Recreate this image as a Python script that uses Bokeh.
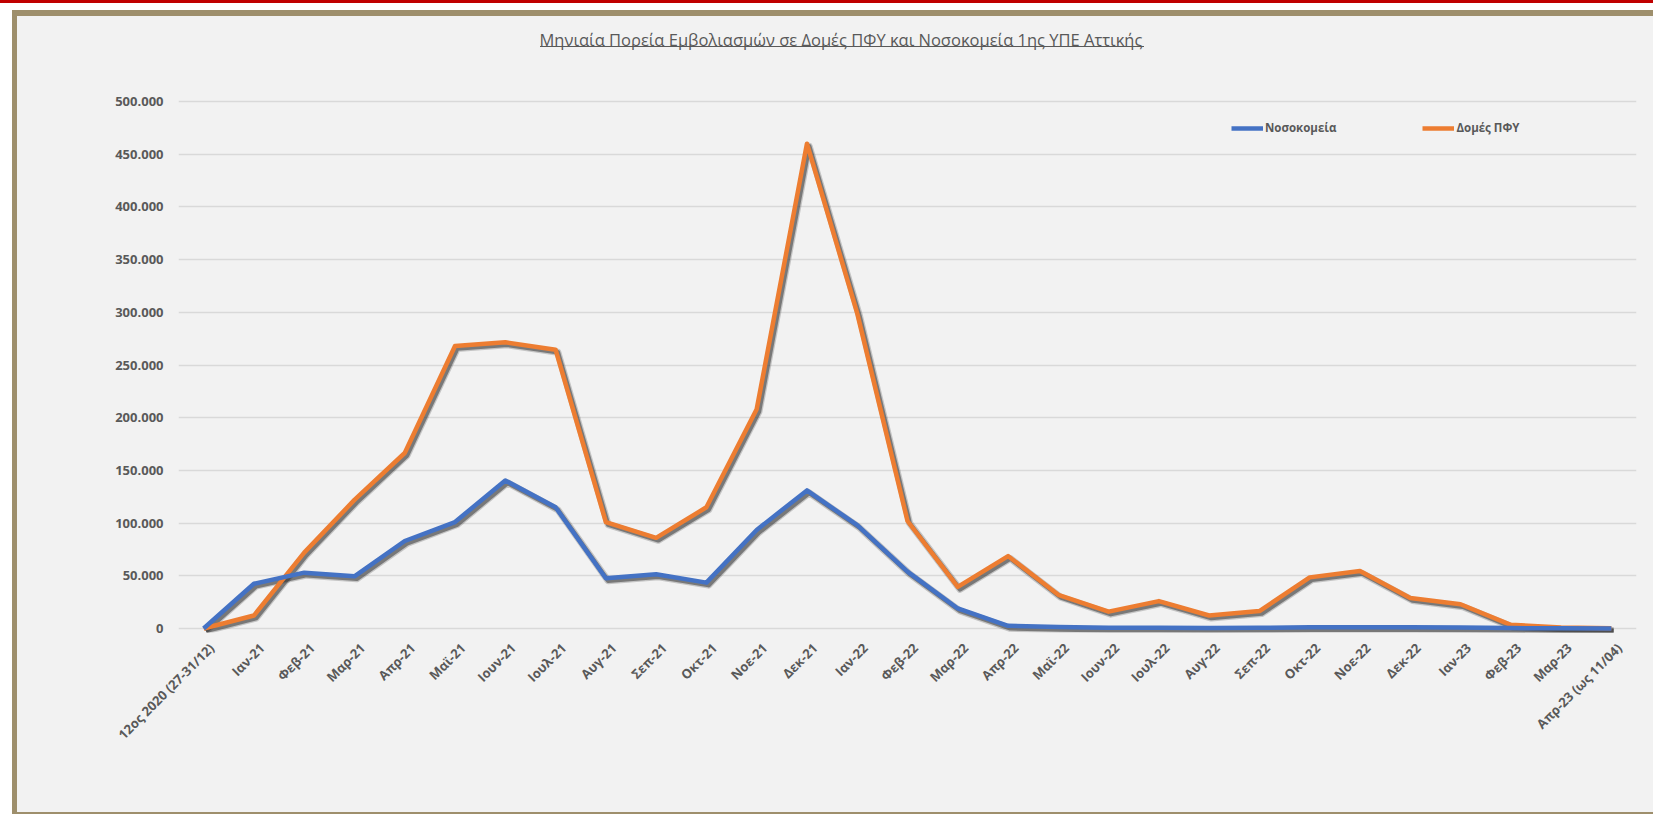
import math
from bokeh.plotting import figure
from bokeh.models import (ColumnDataSource, FixedTicker, Legend, LegendItem,
                          InlineStyleSheet, Range1d)
from bokeh.embed import file_html
from bokeh.resources import INLINE

# ---------------- data ----------------
categories = ["12ος 2020 (27-31/12)", "Ιαν-21", "Φεβ-21", "Μαρ-21", "Απρ-21", "Μαϊ-21",
              "Ιουν-21", "Ιουλ-21", "Αυγ-21", "Σεπ-21", "Οκτ-21", "Νοε-21", "Δεκ-21",
              "Ιαν-22", "Φεβ-22", "Μαρ-22", "Απρ-22", "Μαϊ-22", "Ιουν-22", "Ιουλ-22",
              "Αυγ-22", "Σεπ-22", "Οκτ-22", "Νοε-22", "Δεκ-22", "Ιαν-23", "Φεβ-23",
              "Μαρ-23", "Απρ-23 (ως 11/04)"]
hospitals = [0, 42500, 53000, 49500, 83000, 101000, 140500, 115000, 47700, 51500, 43500,
             93500, 131000, 98000, 54000, 19000, 2500, 1500, 800, 600, 500, 600, 1200,
             1300, 1200, 1000, 400, 200, 100]
phc = [0, 12300, 72000, 122000, 166500, 268000, 271500, 264500, 101000, 86000, 115000,
       208000, 460000, 299000, 102000, 39500, 68700, 32000, 16000, 26000, 12300, 16500,
       48500, 54500, 29000, 23000, 3500, 1000, 300]
series_names = ["Νοσοκομεία", "Δομές ΠΦΥ"]
y_ticks = [0, 50000, 100000, 150000, 200000, 250000, 300000, 350000, 400000, 450000, 500000]
y_tick_labels = ["0", "50.000", "100.000", "150.000", "200.000", "250.000", "300.000",
                 "350.000", "400.000", "450.000", "500.000"]
title_text = "Μηνιαία Πορεία Εμβολιασμών σε Δομές ΠΦΥ και Νοσοκομεία 1ης ΥΠΕ Αττικής"

# ---------------- layout constants (canvas pixels) ----------------
W, H = 1653, 814
FL, FR, FT, FB = 178, 1636, 55, 632      # frame edges
ZERO_Y, TOP_Y = 628, 101                 # canvas y of 0 and of 500.000
dpp = 500000 / (ZERO_Y - TOP_Y)          # data units per pixel
y_start = -(FB - ZERO_Y) * dpp
y_end = 500000 + (TOP_Y - FT) * dpp
n = len(categories)
x_idx = list(range(n))
label_shift = 0.16                       # x-label anchor shift (category units)

TXT = "#595959"
BLUE = "#4472c4"
ORANGE = "#ed7d31"
KHAKI = "#9e8f6c"
FONT = "Open Sans"

css = """
:host { background: #f2f2f2;
        box-shadow: inset 12px 10px 0 0 #ffffff, inset 17px 16px 0 0 %s, inset 0 -2px 0 0 %s; }
:host::before { content: ""; position: fixed; top: 0; left: 0; width: 1653px; height: 3px;
                background: #c00000; z-index: 10; }
:host::after { content: ""; position: fixed; top: 46px; left: 540px; width: 604px; height: 1px;
               background: %s; z-index: 10; }
""" % (KHAKI, KHAKI, TXT)

p = figure(x_range=Range1d(-0.5, n - 0.5), y_range=Range1d(y_start, y_end),
           width=W, height=H, output_backend="svg", toolbar_location=None,
           min_border_left=FL, min_border_right=W - FR,
           min_border_top=FT, min_border_bottom=H - FB)
p.stylesheets = [InlineStyleSheet(css=css)]
p.background_fill_color = "#f2f2f2"
p.border_fill_alpha = 0
p.outline_line_color = None

# title
p.title.text = title_text
p.title.align = "left"
p.title.offset = 361
p.title.text_font = FONT
p.title.text_font_size = "16.5px"
p.title.text_font_style = "normal"
p.title.text_color = TXT

# grid / axes
p.xgrid.grid_line_color = None
p.ygrid.grid_line_color = "#d9d9d9"
p.ygrid.grid_line_width = 1.3
p.ygrid.ticker = FixedTicker(ticks=y_ticks)
p.yaxis.ticker = FixedTicker(ticks=y_ticks)
p.yaxis.major_label_overrides = {t: s for t, s in zip(y_ticks, y_tick_labels)}
x_ticks = [i + label_shift for i in x_idx]
p.xaxis.ticker = FixedTicker(ticks=x_ticks)
p.xaxis.major_label_overrides = {t: c for t, c in zip(x_ticks, categories)}
for ax in (p.xaxis[0], p.yaxis[0]):
    ax.axis_line_color = None
    ax.major_tick_line_color = None
    ax.minor_tick_line_color = None
    ax.major_tick_out = 0
    ax.major_tick_in = 0
    ax.minor_tick_out = 0
    ax.major_label_text_font = FONT
    ax.major_label_text_font_size = "13px"
    ax.major_label_text_font_style = "bold"
    ax.major_label_text_color = TXT
p.yaxis.major_label_standoff = 15
p.xaxis.major_label_standoff = 13
p.xaxis.major_label_orientation = math.pi / 4

# data
dx = 0.045
dy = 2.5 * dpp
src = ColumnDataSource(dict(
    x=x_idx,
    x_sh=[i + dx for i in x_idx],
    hosp=hospitals,
    phc=phc,
    hosp_sh=[v - dy for v in hospitals],
    phc_sh=[v - dy for v in phc],
))

for col in ("phc", "hosp"):
    p.line("x_sh", col + "_sh", source=src, line_color="#3a3a3a", line_width=7,
           line_alpha=0.25, line_join="round")
    p.line("x_sh", col + "_sh", source=src, line_color="#3a3a3a", line_width=4.5,
           line_alpha=0.55, line_join="round")

r_phc = p.line("x", "phc", source=src, line_color=ORANGE, line_width=4.5, line_join="round")
r_hosp = p.line("x", "hosp", source=src, line_color=BLUE, line_width=4.5, line_join="round")

legend = Legend(items=[LegendItem(label=series_names[0], renderers=[r_hosp]),
                       LegendItem(label=series_names[1], renderers=[r_phc])],
                orientation="horizontal", location=(1053, FB - 137.5),
                background_fill_alpha=0, border_line_color=None,
                padding=0, margin=0, spacing=86,
                glyph_width=32, glyph_height=20, label_standoff=2,
                label_text_font=FONT, label_text_font_size="11.5px",
                label_text_font_style="bold", label_text_color=TXT)
p.add_layout(legend, "center")

open("out.html", "w").write(file_html(p, INLINE))
